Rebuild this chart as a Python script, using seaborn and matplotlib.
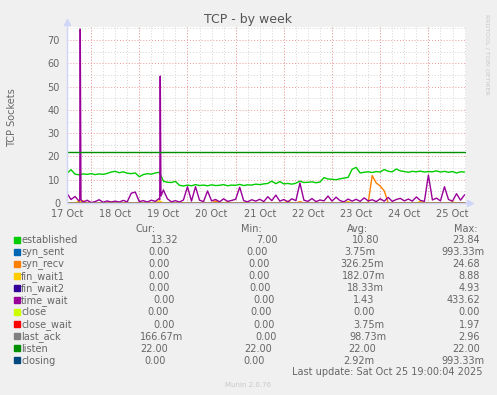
import numpy as np
import pandas as pd
import seaborn as sns
import matplotlib.pyplot as plt
from matplotlib.patches import Rectangle

W, H = 497, 395

# legend table
names = ["established", "syn_sent", "syn_recv", "fin_wait1", "fin_wait2", "time_wait",
         "close", "close_wait", "last_ack", "listen", "closing"]
colors = ["#00CC00", "#0066B3", "#FF8000", "#FFCC00", "#330099", "#990099",
          "#CCFF00", "#FF0000", "#808080", "#008F00", "#00487D"]
cur = ["13.32", "0.00", "0.00", "0.00", "0.00", "0.00", "0.00", "0.00", "166.67m", "22.00", "0.00"]
mins = ["7.00", "0.00", "0.00", "0.00", "0.00", "0.00", "0.00", "0.00", "0.00", "22.00", "0.00"]
avgs = ["10.80", "3.75m", "326.25m", "182.07m", "18.33m", "1.43", "0.00", "3.75m", "98.73m", "22.00", "2.92m"]
maxs = ["23.84", "993.33m", "24.68", "8.88", "4.93", "433.62", "0.00", "1.97", "2.96", "22.00", "993.33m"]
# left x (px) of each value as laid out in the munin legend
cur_x = [151, 148, 148, 148, 148, 153, 147, 153, 140, 140, 144]
min_x = [256, 246, 248, 248, 249, 253, 250, 253, 255, 244, 243]
avg_x = [352, 344, 340, 342, 347, 353, 353, 353, 349, 348, 343]

day_labels = ["17 Oct", "18 Oct", "19 Oct", "20 Oct", "21 Oct", "22 Oct", "23 Oct", "24 Oct", "25 Oct"]

# 2-hourly samples starting 17 Oct 12:00 (days since 17 Oct 00:00)
n_samples = 100
day = 0.5 + np.arange(n_samples) / 12

established = [
    12.8, 14.3, 12.4, 12.1, 12.5, 12.3, 12.6, 12.2, 12.5, 12.3, 12.7, 13.3,
    13.6, 13.0, 13.4, 12.8, 12.6, 12.9, 11.3, 12.2, 12.6, 12.4, 12.9, 13.2,
    9.4, 8.9, 8.8, 9.3, 7.6, 7.3, 7.7, 7.4, 7.9, 7.5, 7.7, 7.4,
    7.8, 7.5, 7.6, 7.9, 7.4, 7.7, 7.6, 8.0, 7.5, 7.8, 7.7, 8.1,
    7.9, 8.2, 8.4, 9.4, 8.3, 9.2, 8.2, 8.4, 8.1, 8.5, 9.4, 8.8,
    8.9, 9.1, 8.7, 9.0, 10.9, 10.3, 10.2, 10.0, 10.4, 10.7, 11.0, 14.5,
    15.3, 12.9, 13.2, 13.4, 13.1, 13.5, 13.3, 14.4, 13.6, 13.4, 14.6, 13.8,
    13.5, 13.2, 13.6, 13.4, 13.7, 13.3, 13.5, 13.4, 13.8, 13.3, 13.6, 13.2,
    13.5, 12.9, 13.4, 13.3,
]

time_wait = [
    4.2, 1.5, 2.8, 0.8, 0.3, 1.2, 0.2, 0.6, 1.4, 0.3, 0.9, 0.4,
    0.8, 0.4, 1.1, 0.5, 4.2, 4.7, 0.6, 1.0, 0.4, 1.2, 0.7, 2.0,
    5.6, 1.8, 0.5, 1.0, 0.4, 1.3, 7.0, 0.8, 7.0, 1.2, 0.6, 5.2,
    0.9, 1.5, 0.5, 1.8, 0.7, 1.1, 1.6, 6.8, 1.0, 0.5, 1.4, 0.8,
    1.6, 0.6, 2.7, 1.0, 3.4, 0.8, 1.5, 0.5, 1.8, 1.0, 8.6, 1.2,
    0.7, 1.9, 0.6, 1.3, 0.9, 3.0, 0.8, 2.5, 1.0, 0.5, 1.7, 0.8,
    1.6, 0.7, 2.2, 0.9, 1.4, 0.6, 1.8, 0.8, 2.4, 0.7, 1.5, 2.0,
    0.9, 1.7, 0.8, 2.6, 1.1, 0.7, 12.0, 1.3, 2.1, 0.9, 7.0, 1.5,
    0.8, 4.0, 1.2, 3.5,
]
# the two tall, narrow time_wait spikes
tw_spike_day = [0.765, 0.775, 0.79, 2.425, 2.435, 2.45]
tw_spike_val = [1.0, 74.7, 1.5, 1.5, 54.5, 3.0]

# sparse non-zero samples (sample index, value)
syn_recv_k = [4, 37, 58, 76, 77, 78, 79]
syn_recv_v = [1.0, 0.8, 0.6, 11.8, 8.6, 7.3, 5.2]
fin_wait1_k = [3, 11, 23, 40, 55, 70, 88, 96]
fin_wait1_v = [0.9, 0.6, 1.0, 0.5, 0.8, 0.6, 0.7, 0.5]
listen_value = 22.0

rows = []
def add(name, xs, ys):
    for x, y in zip(xs, ys):
        rows.append((name, x, y))

zero = np.zeros(n_samples)
syn_recv = zero.copy()
syn_recv[syn_recv_k] = syn_recv_v
fin_wait1 = zero.copy()
fin_wait1[fin_wait1_k] = fin_wait1_v

add("established", day, established)
add("syn_sent", day, zero)
add("syn_recv", day, syn_recv)
add("fin_wait1", day, fin_wait1)
add("fin_wait2", day, zero)
add("time_wait", list(day) + tw_spike_day, time_wait + tw_spike_val)
add("close", day, zero)
add("close_wait", day, zero)
add("last_ack", day, zero)
add("listen", day, np.full(n_samples, listen_value))
add("closing", day, zero)
df = pd.DataFrame(rows, columns=["series", "day", "value"])

sns.set_theme(style="white")
plt.rcParams["font.family"] = ["DejaVu Sans"]
FONT = "#666666"
AXIS = "#CFD6F8"

fig = plt.figure(figsize=(W / 100, H / 100), dpi=100, facecolor="#F0F0F0")
ax = fig.add_axes([67 / W, 1 - 203 / H, 399 / W, 176 / H])
ax.set_facecolor("white")

sns.lineplot(data=df, x="day", y="value", hue="series", hue_order=names,
             palette=dict(zip(names, colors)), estimator=None, legend=False,
             linewidth=1, ax=ax, zorder=3)

ax.set_xlim(0.5, 8.78)
ax.set_ylim(0, 75.6)
ax.set_xticks([0.5 + i for i in range(len(day_labels))], day_labels)
ax.set_xticks(np.arange(0.5, 8.8, 0.25), minor=True)
ax.set_yticks(range(0, 80, 10))
ax.set_yticks(range(5, 80, 10), minor=True)
ax.set_xlabel("")
ax.set_ylabel("")

dots = (0, (1, 2))
ax.xaxis.grid(True, which="both", color="#D4D4D4", linestyle=dots, linewidth=0.7)
ax.yaxis.grid(True, which="minor", color="#D4D4D4", linestyle=dots, linewidth=0.7)
ax.yaxis.grid(True, which="major", color="#EE9A9A", linestyle=dots, linewidth=0.7)
for d in range(1, 9):
    ax.axvline(d, color="#EE9A9A", linestyle=dots, linewidth=0.7, zorder=1)
ax.set_axisbelow(True)

ax.tick_params(axis="x", which="both", length=0, pad=4, labelsize=7, labelcolor=FONT)
ax.tick_params(axis="y", which="major", length=2, color="#EE9A9A", pad=3,
               labelsize=7, labelcolor=FONT)
ax.tick_params(axis="y", which="minor", length=0)

for s in ax.spines.values():
    s.set_visible(False)
ax.plot([0, 0], [0, 1.03], color=AXIS, lw=1, transform=ax.transAxes, clip_on=False, zorder=4)
ax.plot([0, 1.01], [0, 0], color=AXIS, lw=1, transform=ax.transAxes, clip_on=False, zorder=4)
ax.plot(0, 1.03, marker="^", ms=4, color=AXIS, transform=ax.transAxes, clip_on=False)
ax.plot(1.01, 0, marker=">", ms=4, color=AXIS, transform=ax.transAxes, clip_on=False)


def ftext(x, y, s, **kw):
    fig.text(x / W, 1 - y / H, s, **kw)


ftext(248.5, 23, "TCP - by week", ha="center", va="baseline", fontsize=9, color="#555555")
ftext(12, 118, "TCP Sockets", ha="center", va="center", rotation=90, fontsize=7, color=FONT)
ftext(487, 14, "RRDTOOL / TOBI OETIKER", ha="center", va="top", rotation=270,
      fontsize=4.5, color="#C8C8C8")

fs = 7
ftext(135, 232, "Cur:", fontsize=fs, color=FONT, va="baseline")
ftext(241, 232, "Min:", fontsize=fs, color=FONT, va="baseline")
ftext(347, 232, "Avg:", fontsize=fs, color=FONT, va="baseline")
ftext(454, 232, "Max:", fontsize=fs, color=FONT, va="baseline")
for i, name in enumerate(names):
    base = 243.3 + 12.03 * i
    fig.patches.append(Rectangle((14 / W, 1 - (base - 0.5) / H), 6 / W, 6 / H,
                                 transform=fig.transFigure, color=colors[i]))
    ftext(21, base, name, fontsize=fs, color=FONT, va="baseline")
    ftext(cur_x[i], base, cur[i], fontsize=fs, color=FONT, va="baseline")
    ftext(min_x[i], base, mins[i], fontsize=fs, color=FONT, va="baseline")
    ftext(avg_x[i], base, avgs[i], fontsize=fs, color=FONT, va="baseline")
    mx_right = 484 if maxs[i].endswith("m") else 480
    ftext(mx_right, base, maxs[i], fontsize=fs, color=FONT, va="baseline", ha="right")

ftext(483, 375, "Last update: Sat Oct 25 19:00:04 2025", fontsize=fs, color=FONT,
      va="baseline", ha="right")
ftext(248, 387, "Munin 2.0.76", fontsize=5, color="#C8C8C8", va="baseline", ha="center")

fig.savefig("out.png", dpi=100, facecolor=fig.get_facecolor())
